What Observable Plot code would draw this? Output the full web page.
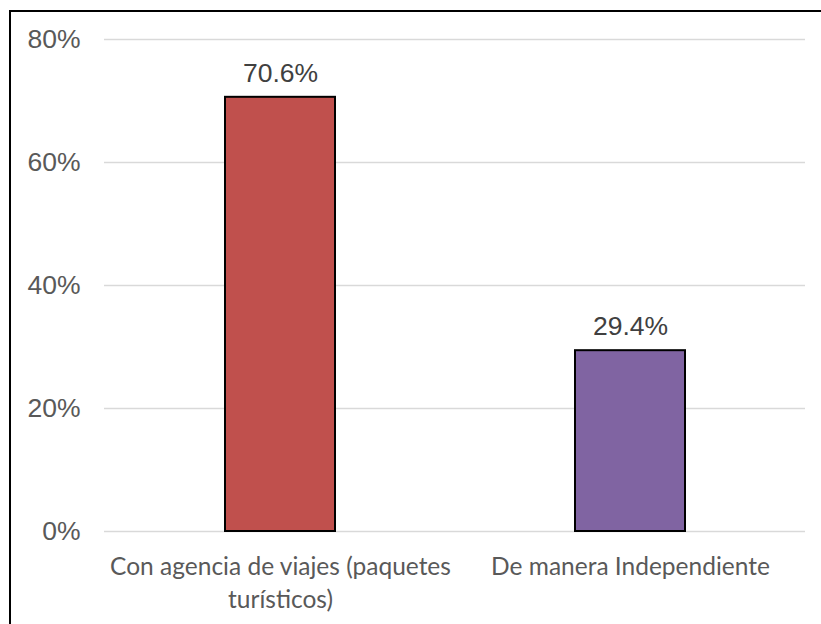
<!DOCTYPE html>
<html>
<head>
<meta charset="utf-8">
<script src="https://cdn.jsdelivr.net/npm/d3@7"></script>
<script src="https://cdn.jsdelivr.net/npm/@observablehq/plot@0.6"></script>
<style>
  html, body { margin: 0; padding: 0; background: #fff; overflow: hidden; }
  #wrap { position: relative; width: 821px; height: 624px; }
  #frame { position: absolute; left: 9px; top: 10px; width: 830px; height: 640px; border: 2px solid #000; box-sizing: border-box; pointer-events: none; }
</style>
</head>
<body>
<div id="wrap"><div id="chart"></div><div id="frame"></div></div>
<script>
const categories = ["Con agencia de viajes (paquetes turísticos)", "De manera Independiente"];
const categoryLabels = ["Con agencia de viajes (paquetes\nturísticos)", "De manera Independiente"];
const values = [0.706, 0.294];
const valueLabels = ["70.6%", "29.4%"];
const colors = ["#C0504D", "#8064A2"];
const yTicks = [0, 0.2, 0.4, 0.6, 0.8];

const data = categories.map((c, i) => ({cat: c, value: values[i], label: valueLabels[i], color: colors[i]}));
const labelOf = new Map(categories.map((c, i) => [c, categoryLabels[i]]));

const chart = Plot.plot({
  width: 821,
  height: 624,
  marginLeft: 104,
  marginRight: 16,
  marginTop: 39,
  marginBottom: 93,
  style: {fontFamily: "'Liberation Sans', Arial, sans-serif", background: "transparent"},
  x: {domain: categories, paddingInner: 0.686, paddingOuter: 0.343, label: null},
  y: {domain: [0, 0.8], label: null},
  marks: [
    Plot.gridY(yTicks, {stroke: "#d9d9d9", strokeOpacity: 1, strokeWidth: 1.5}),
    Plot.axisY(yTicks, {tickSize: 0, tickPadding: 24, tickFormat: d => Math.round(d * 100) + "%", fontSize: 26.5, fill: "#595959", label: null}),
    Plot.axisX({tickSize: 0, tickPadding: 20, tickFormat: d => labelOf.get(d), fontSize: 24.5, fill: "#595959", lineHeight: 1.36, fontFamily: "Lato, 'Open Sans', sans-serif", label: null}),
    Plot.barY(data, {x: "cat", y: "value", fill: "color", stroke: "#000", strokeWidth: 2}),
    Plot.text(data, {x: "cat", y: "value", text: "label", dy: -24, fontSize: 26.5, fill: "#404040"})
  ]
});
document.getElementById("chart").appendChild(chart);
</script>
</body>
</html>
